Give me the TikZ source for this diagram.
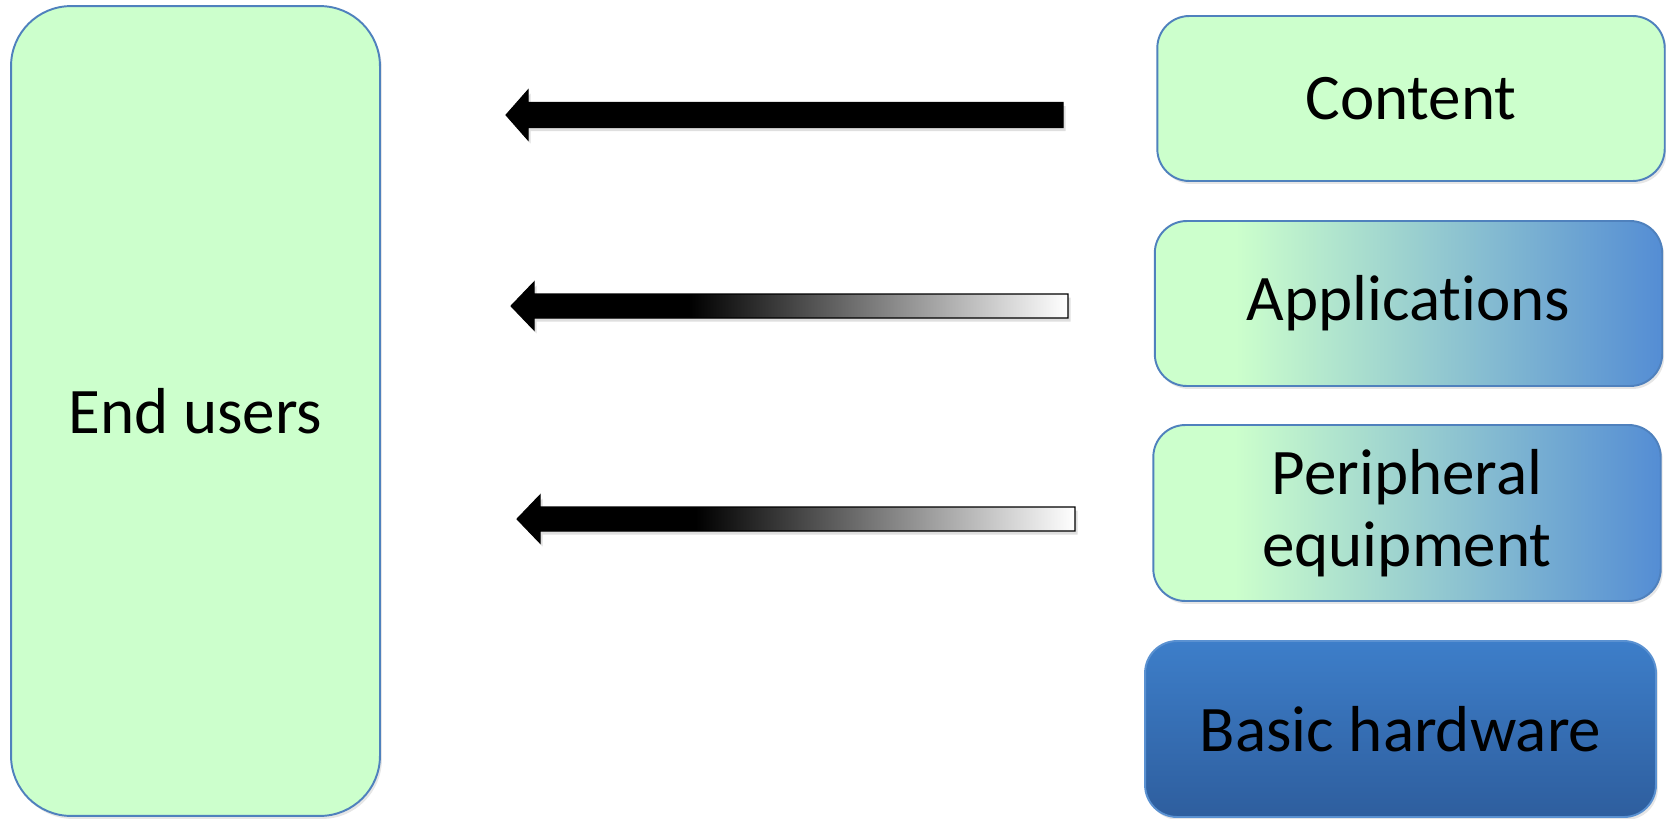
\documentclass[tikz,border=0pt]{standalone}
\usepackage{fontspec}
\setmainfont{Carlito}
\usepackage{tikz}
\usetikzlibrary{shadows,positioning}
\usepackage{xcolor}
\definecolor{lgreen}{RGB}{204,255,204}
\definecolor{bline}{RGB}{79,129,189}
\definecolor{appblue}{RGB}{84,141,212}
\definecolor{hwtop}{RGB}{61,126,201}
\definecolor{hwbot}{RGB}{46,94,158}

\pgfdeclarehorizontalshading{greenblue}{100bp}{color(0bp)=(lgreen); color(33bp)=(lgreen); color(75bp)=(appblue); color(100bp)=(appblue)}
\pgfdeclarehorizontalshading{blackwhite}{100bp}{color(0bp)=(black); color(41bp)=(black); color(75bp)=(white); color(100bp)=(white)}

\begin{document}
\begin{tikzpicture}[
    x=0.02cm, y=-0.02cm,
    layer/.style={rectangle, draw=bline, line width=1.1pt, rounded corners=0.64cm,
        fill=lgreen, minimum width=10.15cm, minimum height=3.3cm, align=center,
        font=\fontsize{37}{41}\selectfont,
        drop shadow={opacity=0.2, shadow xshift=0.04cm, shadow yshift=-0.06cm}},
    grad_layer/.style={layer, shading=greenblue},
    hw_layer/.style={layer, top color=hwtop, bottom color=hwbot, draw=hwtop!85!white},
    flow/.style={draw=black, line width=0.6pt, line join=miter,
        drop shadow={opacity=0.25, shadow xshift=0.05cm, shadow yshift=-0.07cm}}
]
\useasboundingbox (0,0) rectangle (1666,818);

% End users (left)
\node[layer, minimum width=7.38cm, minimum height=16.2cm, rounded corners=1.2cm]
    (users) at (195.5,411) {End users};

% Layer stack (right)
\node[layer] (content) at (1411,98.5) {Content};
\node[grad_layer] (apps) at (1408.5,303.5) {Applicat\kern0pt ions};
\node[grad_layer, minimum height=3.52cm] (periph) at (1407,513) {Peripheral\\equipment};
\node[hw_layer, minimum width=10.22cm, minimum height=3.52cm] (hw) at (1400.5,729) {Basic hardware};

% Block arrows pointing to the users
\coordinate (tipA) at (506,115);
\coordinate (tipB) at (511,306);
\coordinate (tipC) at (517,519);

\filldraw[flow, fill=black] (tipA) -- ++(22,-25) -- ++(0,12.5) -- ++(535,0) -- ++(0,25)
    -- ++(-535,0) -- ++(0,12.5) -- cycle;
\path[flow, shading=blackwhite] (tipB) -- ++(23,-24) -- ++(0,12) -- ++(534,0) -- ++(0,24)
    -- ++(-534,0) -- ++(0,12) -- cycle;
\path[flow, shading=blackwhite] (tipC) -- ++(23,-24) -- ++(0,12) -- ++(535,0) -- ++(0,24)
    -- ++(-535,0) -- ++(0,12) -- cycle;

\end{tikzpicture}
\end{document}
